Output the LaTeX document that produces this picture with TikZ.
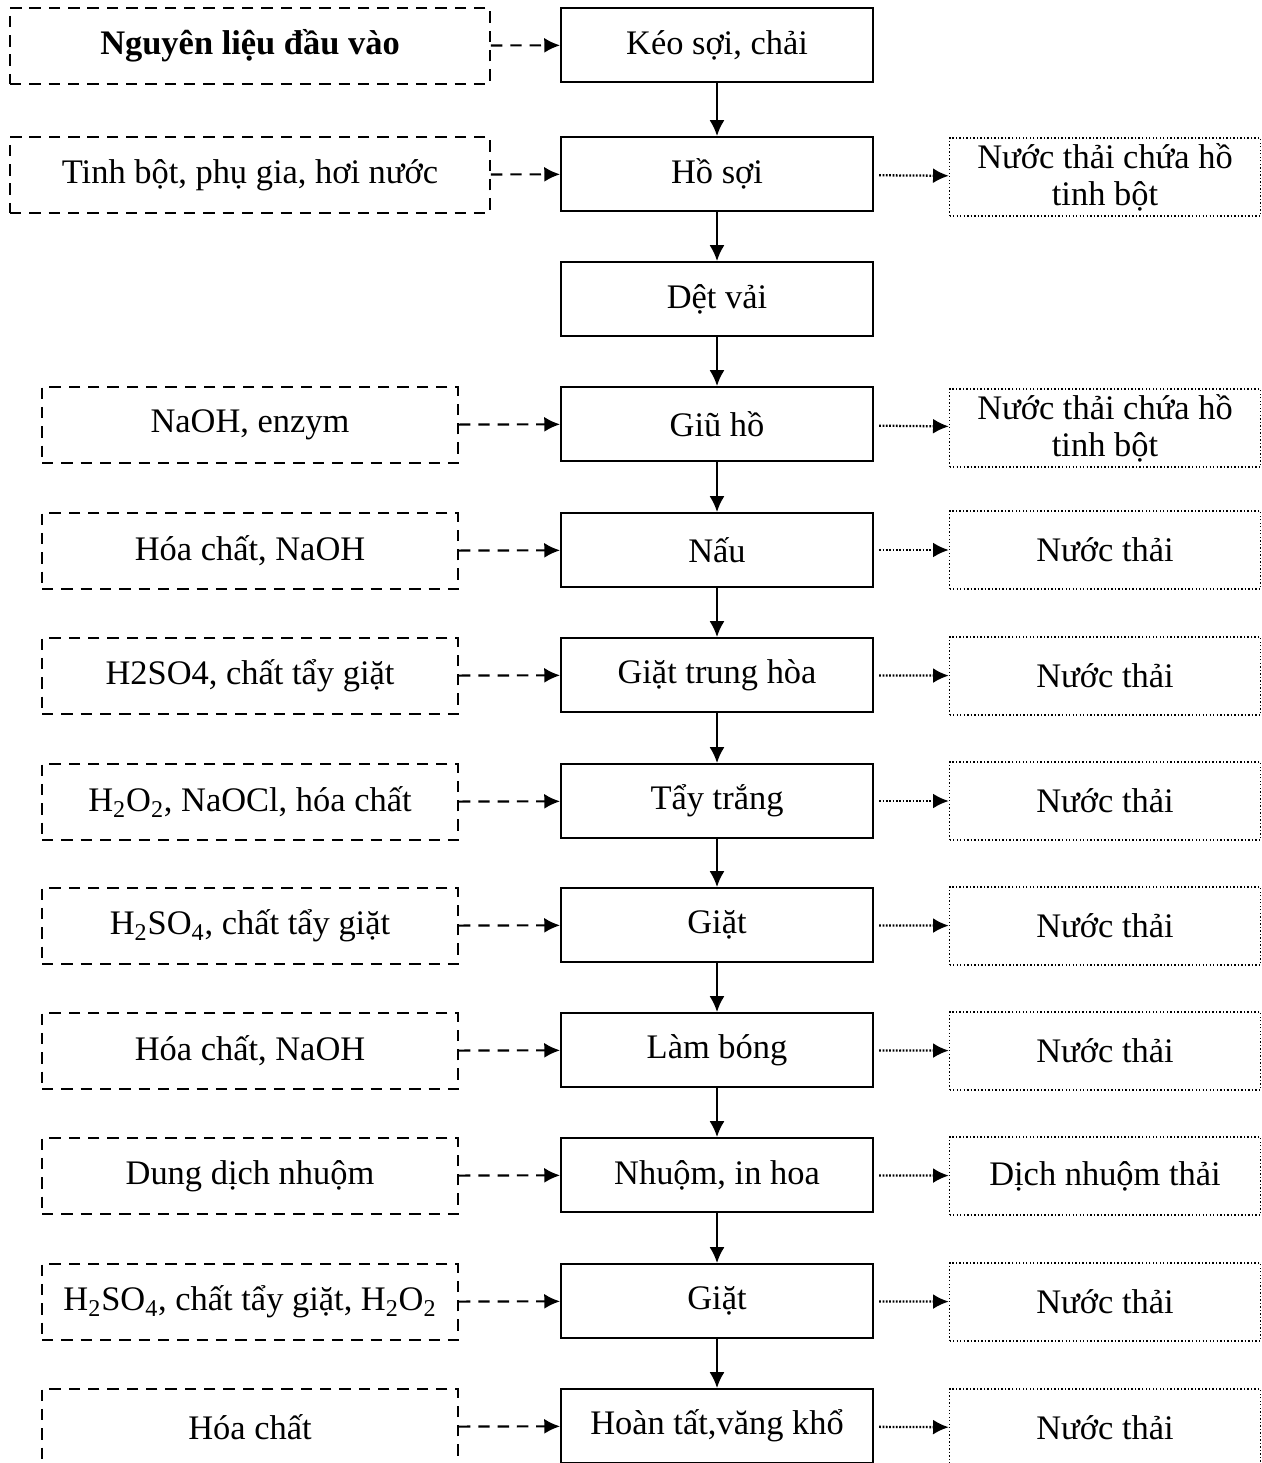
\documentclass[tikz,border=0pt]{standalone}
\usepackage{fontspec}
\setmainfont{Liberation Serif}
\usetikzlibrary{arrows.meta}
\begin{document}
\begin{tikzpicture}[x=0.02cm,y=-0.02cm,
  chu/.style={font=\fontsize{19.6}{21}\selectfont},
  buoc/.style={chu,draw,line width=1.1pt,minimum width=6.24cm,minimum height=1.48cm,inner sep=0pt},
  vao/.style={chu,draw,line width=1.1pt,dash pattern=on 6.5pt off 4.5pt,minimum width=8.32cm,minimum height=1.52cm,inner sep=0pt},
  vaorong/.style={vao,minimum width=9.6cm},
  thai/.style={chu,draw,line width=0.8pt,dash pattern=on 0.8pt off 1.2pt,minimum width=6.22cm,minimum height=1.56cm,inner sep=0pt,align=center},
  muiten/.style={line width=1.2pt,-{Latex[length=9pt,width=8.5pt]}},
  netdut/.style={muiten,dash pattern=on 6.5pt off 4.5pt},
  netcham/.style={muiten,line width=1.3pt,dash pattern=on 1pt off 0.9pt,shorten <=3pt}]
  \useasboundingbox (0,0) rectangle (1261,1463);
  % cot giua: cac cong doan
  \node[buoc] (keo) at (717,45) {Kéo sợi, chải};
  \node[buoc] (ho) at (717,174) {Hồ sợi};
  \node[buoc] (det) at (717,299) {Dệt vải};
  \node[buoc] (giuho) at (717,424) {Giũ hồ};
  \node[buoc] (nau) at (717,550) {Nấu};
  \node[buoc] (trunghoa) at (717,675) {Giặt trung hòa};
  \node[buoc] (taytrang) at (717,801) {Tẩy trắng};
  \node[buoc] (giatA) at (717,925) {Giặt};
  \node[buoc] (lambong) at (717,1050) {Làm bóng};
  \node[buoc] (nhuom) at (717,1175) {Nhuộm, in hoa};
  \node[buoc] (giatB) at (717,1301) {Giặt};
  \node[buoc] (hoantat) at (717,1426) {Hoàn tất,văng khổ};
  \foreach \a/\b in {keo/ho,ho/det,det/giuho,giuho/nau,nau/trunghoa,trunghoa/taytrang,
    taytrang/giatA,giatA/lambong,lambong/nhuom,nhuom/giatB,giatB/hoantat}
    \draw[muiten] (\a) -- (\b);
  % cot trai: nguyen lieu, hoa chat
  \node[vaorong,font=\fontsize{19.6}{21}\selectfont\bfseries] (nl) at (250,46) {Nguyên liệu đầu vào};
  \node[vaorong] (tinhbot) at (250,175) {Tinh bột, phụ gia, hơi nước};
  \node[vao] (naoh) at (250,425) {NaOH, enzym};
  \node[vao] (hcA) at (250,551) {Hóa chất, NaOH};
  \node[vao] (axitA) at (250,676) {H2SO4, chất tẩy giặt};
  \node[vao] (oxy) at (250,802) {H\textsubscript{2}O\textsubscript{2}, NaOCl, hóa chất};
  \node[vao] (axitB) at (250,926) {H\textsubscript{2}SO\textsubscript{4}, chất tẩy giặt};
  \node[vao] (hcB) at (250,1051) {Hóa chất, NaOH};
  \node[vao] (dungdich) at (250,1176) {Dung dịch nhuộm};
  \node[vao] (axitC) at (250,1302) {H\textsubscript{2}SO\textsubscript{4}, chất tẩy giặt, H\textsubscript{2}O\textsubscript{2}};
  \node[vao] (hcC) at (250,1427) {Hóa chất};
  \draw[netdut] (nl) -- (keo);
  \draw[netdut] (tinhbot) -- (ho);
  \foreach \a/\b in {naoh/giuho,hcA/nau,axitA/trunghoa,oxy/taytrang,axitB/giatA,
    hcB/lambong,dungdich/nhuom,axitC/giatB,hcC/hoantat}
    \draw[netdut] (\a) -- (\b);
  % cot phai: chat thai
  \node[thai] (thaiho) at (1105,177) {Nước thải chứa hồ\\tinh bột};
  \node[thai] (thaigiu) at (1105,428) {Nước thải chứa hồ\\tinh bột};
  \node[thai] (thaiA) at (1105,550) {Nước thải};
  \node[thai] (thaiB) at (1105,676) {Nước thải};
  \node[thai] (thaiC) at (1105,801) {Nước thải};
  \node[thai] (thaiD) at (1105,926) {Nước thải};
  \node[thai] (thaiE) at (1105,1051) {Nước thải};
  \node[thai] (thaiF) at (1105,1176) {Dịch nhuộm thải};
  \node[thai] (thaiG) at (1105,1302) {Nước thải};
  \node[thai] (thaiH) at (1105,1428) {Nước thải};
  \foreach \a/\b in {ho/thaiho,giuho/thaigiu,nau/thaiA,trunghoa/thaiB,taytrang/thaiC,
    giatA/thaiD,lambong/thaiE,nhuom/thaiF,giatB/thaiG,hoantat/thaiH}
    \draw[netcham] (\a) -- (\b);
\end{tikzpicture}
\end{document}
